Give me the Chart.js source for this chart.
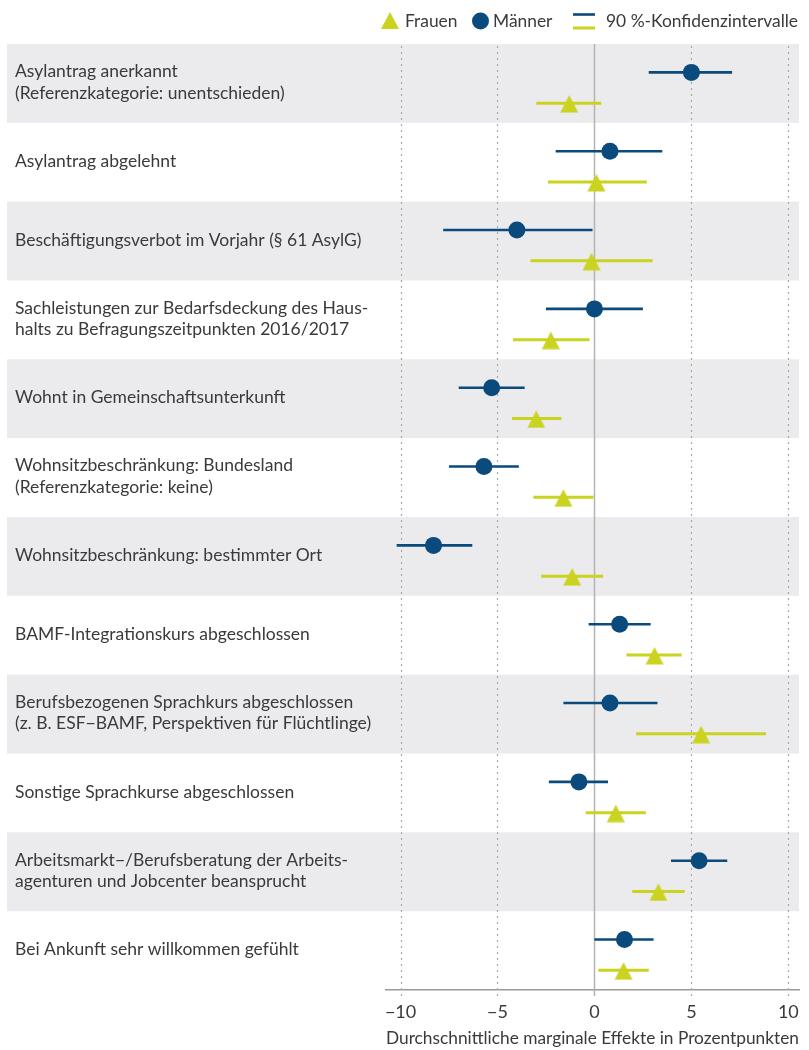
<!DOCTYPE html>
<html lang="de">
<head>
<meta charset="utf-8">
<title>Durchschnittliche marginale Effekte</title>
<script src="https://cdn.jsdelivr.net/npm/chart.js@4/dist/chart.umd.min.js"></script>
<style>
  html, body { margin: 0; padding: 0; background: #fff; overflow: hidden; }
  canvas { display: block; }
</style>
</head>
<body>
<canvas id="chart" width="809" height="1050"></canvas>
<script>
const categories = [
  ["Asylantrag anerkannt", "(Referenzkategorie: unentschieden)"],
  ["Asylantrag abgelehnt"],
  ["Beschäftigungsverbot im Vorjahr (§ 61 AsylG)"],
  ["Sachleistungen zur Bedarfsdeckung des Haus-", "halts zu Befragungszeitpunkten 2016/2017"],
  ["Wohnt in Gemeinschaftsunterkunft"],
  ["Wohnsitzbeschränkung: Bundesland", "(Referenzkategorie: keine)"],
  ["Wohnsitzbeschränkung: bestimmter Ort"],
  ["BAMF-Integrationskurs abgeschlossen"],
  ["Berufsbezogenen Sprachkurs abgeschlossen", "(z. B. ESF−BAMF, Perspektiven für Flüchtlinge)"],
  ["Sonstige Sprachkurse abgeschlossen"],
  ["Arbeitsmarkt−/Berufsberatung der Arbeits-", "agenturen und Jobcenter beansprucht"],
  ["Bei Ankunft sehr willkommen gefühlt"]
];

const maenner   = [ 5.0,  0.8, -4.0,  0.0, -5.3, -5.7, -8.3,  1.3,  0.8, -0.8,  5.4,  1.55];
const maennerLo = [ 2.8, -2.0, -7.8, -2.5, -7.0, -7.5,-10.2, -0.3, -1.6, -2.35, 3.95, 0.0];
const maennerHi = [ 7.1,  3.5, -0.1,  2.5, -3.6, -3.9, -6.3,  2.9,  3.25, 0.7,  6.85, 3.05];

const frauen    = [-1.3,  0.1, -0.15,-2.25,-3.0, -1.6, -1.15, 3.1,  5.5,  1.1,  3.3,  1.5];
const frauenLo  = [-3.0, -2.4, -3.3, -4.2, -4.25,-3.15,-2.75, 1.65, 2.15,-0.45, 1.95, 0.2];
const frauenHi  = [ 0.35, 2.7,  3.0, -0.25,-1.7, -0.05, 0.45, 4.5,  8.85, 2.65, 4.65, 2.8];

const xTicks = [-10, -5, 0, 5, 10];

const NAVY = "#0a4a7c";
const LIME = "#c9d320";
const BAND = "#ebebed";
const TEXT = "#3a3a3a";
const FONT = "Lato, 'Open Sans', sans-serif";

// offsets inside each row (in row units)
const OFF_M = -0.14;
const OFF_F = 0.25;

// triangle marker, drawn a bit lower than its centre like in the original
function makeTriangle() {
  const c = document.createElement("canvas");
  c.width = 20; c.height = 20;
  const g = c.getContext("2d");
  g.fillStyle = LIME;
  g.beginPath();
  g.moveTo(10, 2);
  g.lineTo(19, 19.5);
  g.lineTo(1, 19.5);
  g.closePath();
  g.fill();
  return c;
}
const triangle = makeTriangle();

const backdrop = {
  id: "backdrop",
  beforeDatasetsDraw(chart) {
    const { ctx, chartArea } = chart;
    const x = chart.scales.x, y = chart.scales.y;
    ctx.save();
    // alternating bands
    categories.forEach((lab, i) => {
      const top = y.getPixelForValue(i - 0.5);
      const bot = y.getPixelForValue(i + 0.5);
      if (i % 2 === 0) {
        ctx.fillStyle = BAND;
        ctx.fillRect(7, top, chartArea.right - 7, bot - top);
      }
    });
    // grid lines
    xTicks.forEach(v => {
      const px = Math.round(x.getPixelForValue(v)) + 0.5;
      ctx.beginPath();
      if (v === 0) {
        ctx.setLineDash([]);
        ctx.strokeStyle = "#b4b4b4";
        ctx.lineWidth = 1.5;
        ctx.moveTo(px, chartArea.top);
        ctx.lineTo(px, chartArea.bottom + 6);
      } else {
        ctx.setLineDash([2, 4]);
        ctx.strokeStyle = "#a8a8a8";
        ctx.lineWidth = 1.2;
        ctx.moveTo(px, chartArea.top + 2);
        ctx.lineTo(px, chartArea.bottom + 6);
      }
      ctx.stroke();
    });
    ctx.setLineDash([]);
    // category labels
    ctx.fillStyle = TEXT;
    ctx.font = "17.5px " + FONT;
    ctx.textBaseline = "middle";
    ctx.textAlign = "left";
    categories.forEach((lab, i) => {
      const cy = y.getPixelForValue(i);
      const lh = 21.5;
      lab.forEach((line, k) => {
        ctx.fillText(line, 15, cy + (k - (lab.length - 1) / 2) * lh - 1);
      });
    });
    // confidence intervals
    ctx.lineCap = "butt";
    categories.forEach((lab, i) => {
      let py = y.getPixelForValue(i + OFF_M);
      ctx.strokeStyle = NAVY;
      ctx.lineWidth = 2.6;
      ctx.beginPath();
      ctx.moveTo(x.getPixelForValue(maennerLo[i]), py);
      ctx.lineTo(x.getPixelForValue(maennerHi[i]), py);
      ctx.stroke();
      py = y.getPixelForValue(i + OFF_F);
      ctx.strokeStyle = LIME;
      ctx.lineWidth = 3;
      ctx.beginPath();
      ctx.moveTo(x.getPixelForValue(frauenLo[i]), py);
      ctx.lineTo(x.getPixelForValue(frauenHi[i]), py);
      ctx.stroke();
    });
    ctx.restore();
  },
  afterDraw(chart) {
    // legend
    const { ctx } = chart;
    ctx.save();
    ctx.font = "17.4px " + FONT;
    ctx.fillStyle = TEXT;
    ctx.textBaseline = "middle";
    ctx.textAlign = "left";
    const ly = 21;
    ctx.fillStyle = LIME;
    ctx.beginPath();
    ctx.moveTo(390, 12); ctx.lineTo(399, 29); ctx.lineTo(381, 29); ctx.closePath();
    ctx.fill();
    ctx.fillStyle = TEXT;
    ctx.fillText("Frauen", 405, ly);
    ctx.fillStyle = NAVY;
    ctx.beginPath();
    ctx.arc(480.5, 21, 8.5, 0, Math.PI * 2);
    ctx.fill();
    ctx.fillStyle = TEXT;
    ctx.fillText("Männer", 493, ly);
    ctx.lineWidth = 2.6;
    ctx.strokeStyle = NAVY;
    ctx.beginPath(); ctx.moveTo(573, 14.5); ctx.lineTo(595, 14.5); ctx.stroke();
    ctx.lineWidth = 3;
    ctx.strokeStyle = LIME;
    ctx.beginPath(); ctx.moveTo(573, 28); ctx.lineTo(595, 28); ctx.stroke();
    ctx.fillText("90 %-Konfidenzintervalle", 606, ly);
    ctx.restore();
  }
};

new Chart(document.getElementById("chart"), {
  type: "scatter",
  data: {
    datasets: [
      {
        label: "Männer",
        data: maenner.map((v, i) => ({ x: v, y: i + OFF_M })),
        pointStyle: "circle",
        pointRadius: 8.5,
        pointHoverRadius: 8.5,
        backgroundColor: NAVY,
        borderWidth: 0
      },
      {
        label: "Frauen",
        data: frauen.map((v, i) => ({ x: v, y: i + OFF_F })),
        pointStyle: triangle,
        pointRadius: 10,
        backgroundColor: LIME,
        borderWidth: 0
      }
    ]
  },
  options: {
    responsive: false,
    animation: false,
    layout: { padding: { left: 386, right: 6, top: 44, bottom: 0 } },
    plugins: {
      legend: { display: false },
      tooltip: { enabled: false }
    },
    scales: {
      x: {
        type: "linear",
        min: -10.75,
        max: 10.55,
        afterBuildTicks(scale) {
          scale.ticks = xTicks.map(v => ({ value: v }));
        },
        afterFit(scale) {
          scale.height = 60;
          scale.paddingLeft = 0;
          scale.paddingRight = 0;
        },
        grid: { display: false },
        border: { display: true, color: "#9a9a9a", width: 1.5 },
        ticks: {
          padding: 3,
          color: TEXT,
          font: { family: FONT, size: 18 },
          callback: v => (v < 0 ? "\u2212" + Math.abs(v) : String(v))
        },
        title: {
          display: true,
          text: "Durchschnittliche marginale Effekte in Prozentpunkten",
          color: TEXT,
          align: "end",
          font: { family: FONT, size: 17.6 },
          padding: { top: 4, bottom: 1 }
        }
      },
      y: {
        type: "linear",
        display: false,
        reverse: true,
        min: -0.5,
        max: 11.5
      }
    }
  },
  plugins: [backdrop]
});
</script>
</body>
</html>
